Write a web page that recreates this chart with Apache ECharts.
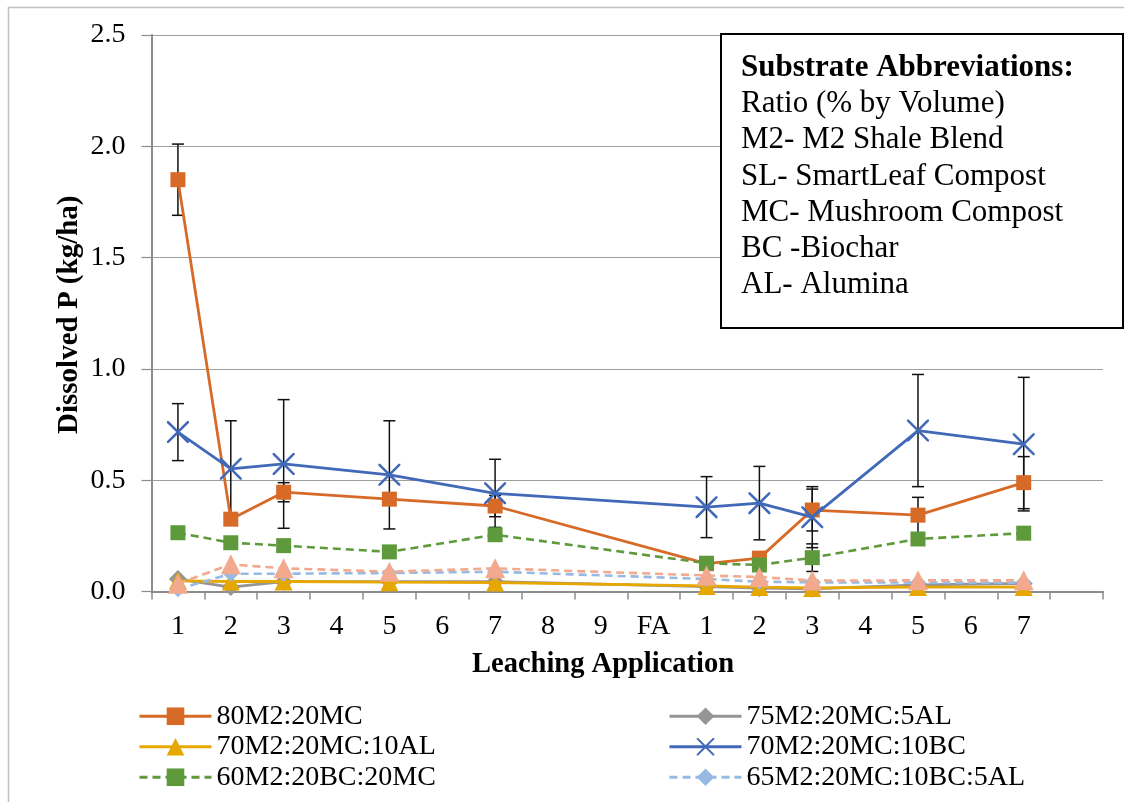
<!DOCTYPE html>
<html>
<head>
<meta charset="utf-8">
<script src="https://cdn.jsdelivr.net/npm/echarts@6/dist/echarts.min.js"></script>
<style>
  html, body { margin: 0; padding: 0; background: #ffffff; }
  #chart { width: 1124px; height: 802px; }
</style>
</head>
<body>
<div id="chart"></div>
<script>
// Leaching events: first run 1–9, fertilizer application (FA), second run 1–7
const categories = ['1', '2', '3', '4', '5', '6', '7', '8', '9', 'FA', '1', '2', '3', '4', '5', '6', '7', ''];
const yTickValues = [0, 0.5, 1.0, 1.5, 2.0, 2.5];

// Dissolved P (kg/ha) per substrate; null = not sampled
const p80M2_20MC        = [1.85, 0.325, 0.446, null, 0.415, null, 0.384, null, null, null, 0.125, 0.150, 0.366, null, 0.343, null, 0.489, null];
const p75M2_20MC_5AL    = [0.056, 0.020, 0.044, null, 0.044, null, 0.044, null, null, null, 0.022, 0.015, 0.012, null, 0.030, null, 0.036, null];
const p70M2_20MC_10AL   = [0.048, 0.045, 0.045, null, 0.042, null, 0.040, null, null, null, 0.025, 0.020, 0.016, null, 0.020, null, 0.020, null];
const p70M2_20MC_10BC   = [0.716, 0.551, 0.573, null, 0.524, null, 0.441, null, null, null, 0.379, 0.397, 0.334, null, 0.723, null, 0.662, null];
const p60M2_20BC_20MC   = [0.264, 0.219, 0.206, null, 0.178, null, 0.255, null, null, null, 0.127, 0.119, 0.152, null, 0.236, null, 0.262, null];
const p65M2_20MC_10BC_5AL = [0.010, 0.080, 0.080, null, 0.083, null, 0.089, null, null, null, 0.056, 0.044, 0.041, null, 0.040, null, 0.040, null];
const pSeries7          = [0.035, 0.122, 0.104, null, 0.089, null, 0.104, null, null, null, 0.072, 0.065, 0.049, null, 0.050, null, 0.050, null];

// Standard error bars (± kg/ha)
const err80M2_20MC      = [0.160, 0.020, 0.043, null, 0.020, null, 0.048, null, null, null, 0.020, 0.020, 0.094, null, 0.080, null, 0.117, null];
const err70M2_20MC_10BC = [0.128, 0.216, 0.289, null, 0.243, null, 0.153, null, null, null, 0.137, 0.165, 0.137, null, 0.252, null, 0.300, null];
const err60M2_20BC_20MC = [0.020, 0.015, 0.015, null, 0.015, null, 0.015, null, null, null, 0.015, 0.015, 0.062, null, 0.015, null, 0.015, null];

const legendLeft  = ['80M2:20MC', '70M2:20MC:10AL', '60M2:20BC:20MC'];
const legendRight = ['75M2:20MC:5AL', '70M2:20MC:10BC', '65M2:20MC:10BC:5AL'];

const noteLines = [
  'Substrate Abbreviations:',
  'Ratio (% by Volume)',
  'M2- M2 Shale Blend',
  'SL- SmartLeaf Compost',
  'MC- Mushroom Compost',
  'BC -Biochar',
  'AL- Alumina'
];

const FONT = "'Times New Roman', 'Liberation Serif', serif";
const CROSS = 'path://M0,0 L1.6,0 L10,8.4 L18.4,0 L20,0 L20,1.6 L11.6,10 L20,18.4 L20,20 L18.4,20 L10,11.6 L1.6,20 L0,20 L0,18.4 L8.4,10 L0,1.6 Z';

function lineSeries(name, data, color, symbol, size, dashed, z) {
  return {
    type: 'line',
    name: name,
    data: data,
    connectNulls: true,
    symbol: symbol,
    symbolSize: size,
    showAllSymbol: true,
    lineStyle: { color: color, width: dashed ? 2.6 : 2.8, type: dashed ? [8, 5] : 'solid' },
    itemStyle: { color: color, borderWidth: 0 },
    emphasis: { disabled: true },
    z: z
  };
}

function errorSeries(values, errs, z) {
  const data = [];
  values.forEach(function (v, i) {
    if (v != null && errs[i] != null) data.push([i, v - errs[i], v + errs[i]]);
  });
  return {
    type: 'custom',
    data: data,
    encode: { x: 0, y: [1, 2] },
    z: z,
    silent: true,
    renderItem: function (params, api) {
      const x = api.value(0);
      const lo = api.coord([x, api.value(1)]);
      const hi = api.coord([x, api.value(2)]);
      const cap = 6;
      const style = { stroke: '#111111', lineWidth: 1.5, fill: null };
      return {
        type: 'group',
        children: [
          { type: 'line', shape: { x1: lo[0], y1: lo[1], x2: hi[0], y2: hi[1] }, style: style },
          { type: 'line', shape: { x1: lo[0] - cap, y1: lo[1], x2: lo[0] + cap, y2: lo[1] }, style: style },
          { type: 'line', shape: { x1: hi[0] - cap, y1: hi[1], x2: hi[0] + cap, y2: hi[1] }, style: style }
        ]
      };
    }
  };
}

const legendBase = {
  orient: 'vertical',
  itemWidth: 72,
  itemHeight: 22,
  itemGap: 0,
  selectedMode: false,
  lineStyle: { width: 3 },
  textStyle: { fontFamily: FONT, fontSize: 28, lineHeight: 30.5, color: '#000000' }
};

const noteGraphics = noteLines.map(function (t, i) {
  return {
    type: 'text',
    left: 741,
    top: 52 + i * 36.3,
    z: 101,
    style: {
      text: t,
      font: (i === 0 ? 'bold ' : '') + '31px ' + FONT,
      fill: '#000000'
    }
  };
});

const option = {
  animation: false,
  backgroundColor: '#ffffff',
  grid: { left: 151.5, top: 35, width: 951.5, height: 556.5, containLabel: false },
  xAxis: {
    type: 'category',
    data: categories,
    boundaryGap: true,
    axisLine: { lineStyle: { color: '#8c8c8c', width: 2 } },
    axisTick: { show: true, length: 8, interval: 0, alignWithLabel: false, lineStyle: { color: '#8c8c8c', width: 1.5 } },
    axisLabel: { interval: 0, margin: 21, fontFamily: FONT, fontSize: 28, color: '#000000' },
    splitLine: { show: false }
  },
  yAxis: {
    type: 'value',
    min: yTickValues[0],
    max: yTickValues[yTickValues.length - 1],
    interval: 0.5,
    axisLine: { show: true, lineStyle: { color: '#8c8c8c', width: 2 } },
    axisTick: { show: true, length: 10, inside: false, lineStyle: { color: '#8c8c8c', width: 1.2 } },
    axisLabel: {
      margin: 26,
      fontFamily: FONT, fontSize: 28, color: '#000000',
      formatter: function (v) { return v.toFixed(1); }
    },
    splitLine: { show: true, lineStyle: { color: '#9e9e9e', width: 1.2 } }
  },
  legend: [
    Object.assign({}, legendBase, { data: legendLeft, left: 133, top: 696 }),
    Object.assign({}, legendBase, { data: legendRight, left: 663, top: 696 })
  ],
  graphic: [
    { type: 'rect', left: 6, top: 5, z: -10, silent: true,
      shape: { width: 1400, height: 1000 },
      style: { fill: 'none', stroke: '#c0c0c0', lineWidth: 1.5 } },
    { type: 'text', left: 472, top: 650, z: 50,
      style: { text: 'Leaching Application', font: 'bold 28.5px ' + FONT, fill: '#000000' } },
    { type: 'text', x: 55, y: 434, rotation: Math.PI / 2, z: 50,
      style: { text: 'Dissolved P (kg/ha)', font: 'bold 29px ' + FONT, fill: '#000000', textVerticalAlign: 'top' } },
    { type: 'rect', left: 720, top: 33, z: 100,
      shape: { width: 402, height: 294 },
      style: { fill: '#ffffff', stroke: '#000000', lineWidth: 2 } }
  ].concat(noteGraphics),
  series: [
    errorSeries(p80M2_20MC, err80M2_20MC, 3),
    errorSeries(p70M2_20MC_10BC, err70M2_20MC_10BC, 3),
    errorSeries(p60M2_20BC_20MC, err60M2_20BC_20MC, 3),
    lineSeries('80M2:20MC', p80M2_20MC, '#d86a28', 'rect', 15, false, 4),
    lineSeries('75M2:20MC:5AL', p75M2_20MC_5AL, '#959595', 'diamond', 18, false, 5),
    lineSeries('70M2:20MC:10AL', p70M2_20MC_10AL, '#e6a800', 'triangle', 18, false, 6),
    lineSeries('70M2:20MC:10BC', p70M2_20MC_10BC, '#4169b8', CROSS, 22, false, 7),
    lineSeries('60M2:20BC:20MC', p60M2_20BC_20MC, '#5e9a3c', 'rect', 15, true, 8),
    lineSeries('65M2:20MC:10BC:5AL', p65M2_20MC_10BC_5AL, '#96bae4', 'diamond', 16, true, 9),
    lineSeries('Series 7', pSeries7, '#f2a98d', 'triangle', 20, true, 10)
  ]
};

const chart = echarts.init(document.getElementById('chart'), null, { renderer: 'canvas' });
chart.setOption(option);
</script>
</body>
</html>
